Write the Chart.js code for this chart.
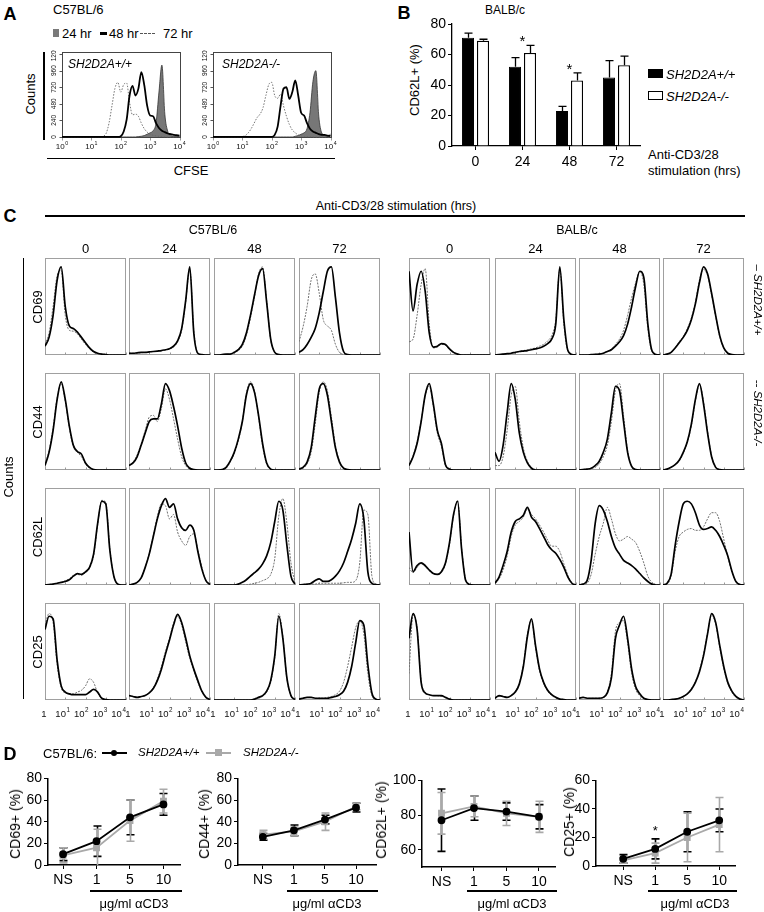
<!DOCTYPE html>
<html>
<head>
<meta charset="utf-8">
<script src="https://cdn.jsdelivr.net/npm/chart.js@4.4.1/dist/chart.umd.min.js"></script>
<style>
  html, body { margin: 0; padding: 0; background: #fff; }
  body { position: relative; width: 764px; height: 912px; overflow: hidden; font-family: "Liberation Sans", Arial, sans-serif; color: #000; }
  canvas { position: absolute; }
  .t { position: absolute; white-space: nowrap; line-height: 1; }
  .ln { position: absolute; background: #000; }
</style>
</head>
<body>
<script>
// ---------- data ----------
// x grid of the flow histograms, log10 of fluorescence (1 .. 10^4)
const LOG_X = [0,0.2,0.4,0.6,0.8,1,1.2,1.4,1.6,1.8,2,2.2,2.4,2.6,2.8,3,3.2,3.4,3.6,3.8,4];
const CFSE_X = [0,0.1,0.2,0.3,0.4,0.5,0.6,0.7,0.8,0.9,1,1.1,1.2,1.3,1.4,1.5,1.6,1.7,1.8,1.9,2,2.1,2.2,2.3,2.4,2.5,2.6,2.7,2.8,2.9,3,3.1,3.2,3.3,3.4,3.5,3.6,3.7,3.8,3.9,4];
const DECADES = [0,1,2,3,4];
const FLOW_TICKS = ['1','10^1','10^2','10^3','10^4'];
const CFSE_TICKS = ['10^0','10^1','10^2','10^3','10^4'];
const COUNT_TICKS = [0,240,480,720,960,1200];

// panel A, CFSE counts
const A_WT_24H = [0,0,0,0,0,0,0,0,0,0, 0,0,0,0,0,0,0,0,0,0, 0,0,0,0,0,0,5,10,20,40, 60,90,200,650,1040,330,80,20,10,5, 5];
const A_WT_48H = [0,0,0,0,0,0,0,0,0,0, 0,0,0,0,0,0,0,0,0,0, 10,80,250,600,740,600,700,940,750,450, 310,300,200,130,90,70,50,40,30,25, 20];
const A_WT_72H = [0,0,0,0,0,0,0,0,0,0, 0,0,0,0,10,50,200,450,700,790, 650,760,780,500,320,330,300,200,120,70, 40,25,15,10,5,3,0,0,0,0, 0];
const A_KO_24H = [0,0,0,0,0,0,0,0,0,0, 0,0,0,0,0,0,0,0,0,0, 0,0,0,0,0,0,0,0,10,20, 40,60,120,350,800,960,300,60,20,10, 40];
const A_KO_48H = [0,0,0,0,0,0,0,0,0,0, 0,0,0,0,0,0,0,0,0,0, 0,30,150,450,700,720,550,650,820,600, 350,310,200,120,80,60,40,30,30,20, 15];
const A_KO_72H = [0,0,0,0,0,0,0,0,0,0, 5,20,60,120,200,280,330,420,600,760, 790,600,560,620,450,300,180,100,60,30, 15,8,5,3,0,0,0,0,0,0, 0];

// panel B, CD62L+ (%) in BALB/c
const TIME_LABELS = ['0','24','48','72'];
const B_WT = [71,52,23,45];
const B_WT_ERR = [3,6,3,11];
const B_KO = [69,61,43,53];
const B_KO_ERR = [1,5,5,6];
const B_SIG = [false,true,true,false];

// panel C, histograms (relative counts), one row per time point 0/24/48/72 h
const CD69_B6_WT = [
  [10,20,45,85,100,55,33,30,26,20,14,8,4,2,1,0.5,0,0,0,0,0],
  [2,2,2.5,3,3,3.5,4,4.5,5,6,7,10,16,30,62,100,25,2,0.5,0,0],
  [0,0,0.5,1,1,3,6,12,25,45,68,90,98,60,18,3,0.5,0,0,0,0],
  [3,6,12,20,30,48,72,95,100,65,25,4,0.5,0,0,0,0,0,0,0,0]];
const CD69_B6_KO = [
  [12,25,55,90,96,45,28,27,24,18,12,7,3,1.5,1,0.5,0,0,0,0,0],
  [2,2,2,2.5,3,3,4,4,5,5.5,7,9,15,28,60,98,28,2,0.5,0,0],
  [0,0,0.5,0.8,1,3,5,10,22,42,66,92,100,62,17,3,0.5,0,0,0,0],
  [15,32,55,85,92,70,40,33,28,12,3,0.5,0,0,0,0,0,0,0,0,0]];
const CD69_BALB_WT = [
  [95,50,80,95,72,25,9,10,13,12,7,3,1,0,0,0,0,0,0,0,0],
  [0,0.5,1,1.5,2,3,4,4.5,5,6,7,8,10,13,18,35,100,40,5,0.5,0],
  [0,0,0,0.5,0.8,1,2,4,6,10,15,22,35,55,78,95,88,35,5,0.5,0],
  [0,1,3,8,14,20,28,40,58,82,100,92,70,45,22,8,2,0.5,0,0,0]];
const CD69_BALB_KO = [
  [15,18,45,80,98,35,8,9,12,11,6,3,1,0,0,0,0,0,0,0,0],
  [0,0.5,1,1.5,2,3,4,5,6,7,8,10,12,16,22,40,98,35,4,0.5,0],
  [0,0,0,0.5,0.8,1,2,4,7,12,18,28,45,65,82,95,80,30,4,0.5,0],
  [0,1,3,8,15,21,30,42,60,85,97,90,68,44,21,8,2,0.5,0,0,0]];

const CD44_B6_WT = [
  [5,20,45,80,100,80,50,28,21,18,8,3,0.5,0,0,0,0,0,0,0,0],
  [5,8,15,28,42,55,58,58,75,98,90,72,50,25,8,2,0.5,0,0,0,0],
  [0,0,0.5,3,10,20,35,55,85,98,88,62,30,8,1,0,0,0,0,0,0],
  [1,3,9,25,60,92,98,85,55,25,9,2,0.5,0,0,0,0,0,0,0,0]];
const CD44_B6_KO = [
  [6,22,48,82,98,78,48,26,20,15,7,2,0.5,0,0,0,0,0,0,0,0],
  [5,9,17,30,45,60,62,55,70,92,80,58,35,15,5,1,0,0,0,0,0],
  [0,0,0.5,2,9,19,33,55,87,100,90,60,27,7,1,0,0,0,0,0,0],
  [1,2,7,20,52,88,100,90,60,28,10,2,0.5,0,0,0,0,0,0,0,0]];
const CD44_BALB_WT = [
  [5,15,30,55,85,98,75,45,30,6,1,0,0,0,0,0,0,0,0,0,0],
  [20,10,28,65,98,80,42,20,8,2,0,0,0,0,0,0,0,0,0,0,0],
  [0,0.5,1,2,5,10,20,35,65,95,90,55,20,4,0.5,0,0,0,0,0,0],
  [0,1,3,6,11,20,32,52,80,98,75,42,15,3,0.5,0,0,0,0,0,0]];
const CD44_BALB_KO = [
  [6,16,32,56,84,95,72,42,27,5,1,0,0,0,0,0,0,0,0,0,0],
  [5,5,15,45,85,95,55,25,10,3,0.5,0,0,0,0,0,0,0,0,0,0],
  [0,0.5,1,1.5,3,7,15,28,55,90,98,62,22,4,0.5,0,0,0,0,0,0],
  [0,1,3,6,10,19,31,50,78,97,78,44,16,3,0.5,0,0,0,0,0,0]];

const CD62L_B6_WT = [
  [0,0.5,1,2,3,4,6,10,13,12,15,20,35,70,95,92,40,10,1,0,0],
  [0,1,3,8,20,35,55,75,90,98,88,92,75,65,62,68,62,38,18,5,0.5],
  [0,0,0,0,0,0,1,3,6,10,14,18,24,33,48,72,95,85,45,10,1],
  [0,0.5,1,2,5,7,4,4,6,10,16,25,38,52,70,92,75,15,2,0.5,0]];
const CD62L_B6_KO = [
  [0,0.5,1,2,3,5,7,11,12,11,14,19,33,68,96,94,42,10,1,0,0],
  [0,1,3,8,20,36,56,78,92,90,75,80,60,50,45,55,58,40,20,5,0.5],
  [0,0,0,0,0,0,0,0,0,1,2,3,5,7,12,30,78,98,70,25,3],
  [0,0,0.5,1,1,2,2,2,2,2,2,2.5,3,3,5,25,85,80,10,1,0]];
const CD62L_BALB_WT = [
  [60,15,22,25,22,17,13,12,15,25,48,80,95,40,5,0.5,0,0,0,0,0],
  [2,9,22,38,60,72,75,79,88,77,72,64,55,46,40,36,29,20,9,2,0],
  [0,1,5,28,70,90,85,72,55,42,35,28,25,22,18,13,8,4,1,0,0],
  [0,2,12,45,72,92,95,92,82,68,63,64,66,62,55,45,33,16,4,0.5,0]];
const CD62L_BALB_KO = [
  [20,14,20,24,21,16,13,12,14,24,46,78,96,42,6,0.5,0,0,0,0,0],
  [2,7,17,33,55,68,72,77,86,80,75,68,60,51,44,44,38,24,11,2,0],
  [0,0.5,2,12,35,55,70,88,75,58,50,52,55,52,48,38,25,10,3,0.5,0],
  [0,1,10,38,55,60,63,64,62,62,66,75,82,82,72,52,32,15,4,0.5,0]];

const CD25_B6_WT = [
  [80,95,92,45,16,9,7,6,6,6,6,9,12,9,2,0.5,0,0,0,0,0],
  [5,4,3,4,5,8,13,22,35,52,68,85,97,88,70,50,35,22,10,3,0.5],
  [0,0,0,0,0,0,0,0,0,0,1,3,5,10,22,50,95,70,25,5,0.5],
  [1,2,3,3,2,2,2,2,3,4,6,10,20,38,65,90,85,40,8,1,0]];
const CD25_B6_KO = [
  [85,98,88,40,14,8,7,7,9,11,16,24,20,8,1.5,0.5,0,0,0,0,0],
  [5,4,3,3.5,5,8,14,24,38,55,70,87,95,85,66,47,33,20,9,3,0.5],
  [0,0,0,0,0,0,0,0,0,0,1,2,4,9,20,48,98,72,24,5,0.5],
  [1,2,3,3,2,2,2,3,4,6,10,20,38,60,82,90,75,30,5,0.5,0]];
const CD25_BALB_WT = [
  [70,98,80,20,8,6,5,5,5,3,1,0,0,0,0,0,0,0,0,0,0],
  [2,5,4,3,5,9,18,38,72,92,62,35,20,11,6,3,1,0.5,0,0,0],
  [2,3,2,2,2,2,3,8,25,70,85,95,70,35,15,7,2,0.5,0,0,0],
  [0,0,0.5,1,2,4,7,12,20,32,50,75,98,88,62,38,20,10,4,1,0]];
const CD25_BALB_KO = [
  [30,96,82,22,9,6,5,5,4,3,1,0,0,0,0,0,0,0,0,0,0],
  [2,4,4,3,5,10,19,40,74,90,60,33,19,10,5,2.5,1,0.5,0,0,0],
  [2,3,2,2,2,2,3,10,30,78,88,90,65,30,12,5,1.5,0.5,0,0,0],
  [0,0,0.5,1,2,4,7,13,21,34,52,76,96,86,60,36,19,9,3,1,0]];

// panel D, % positive vs anti-CD3 dose (mean, error)
const DOSE_LABELS = ['NS','1','5','10'];
const D_CD69_WT = [10,22,44,56],  D_CD69_WT_ERR = [6,14,16,10];
const D_CD69_KO = [9,16,41,59],   D_CD69_KO_ERR = [7,17,19,11];
const D_CD44_WT = [26,32,42,53],  D_CD44_WT_ERR = [3,5,4,4];
const D_CD44_KO = [28,31,40,54],  D_CD44_KO_ERR = [4,4,8,3];
const D_CD62L_WT = [77,84,82,79], D_CD62L_WT_ERR = [18,7,5,7];
const D_CD62L_KO = [81,85,81,79], D_CD62L_KO_ERR = [12,6,7,9];
const D_CD25_WT = [5,12,24,32],   D_CD25_WT_ERR = [3,7,14,8];
const D_CD25_KO = [4,9,20,29],    D_CD25_KO_ERR = [2,7,17,19];
const D_CD25_SIG = [false,true,false,false];

// ---------- helpers ----------
Chart.defaults.font.family = '"Liberation Sans", Arial, sans-serif';
Chart.defaults.color = '#000';

function place(x, y, w, h) {
  const c = document.createElement('canvas');
  c.width = w; c.height = h;
  c.style.left = x + 'px'; c.style.top = y + 'px';
  c.style.width = w + 'px'; c.style.height = h + 'px';
  document.body.appendChild(c);
  return c.getContext('2d');
}

function txt(s, x, y, size, o = {}) {
  const d = document.createElement('div');
  d.className = 't';
  d.textContent = s;
  d.style.left = x + 'px';
  d.style.top = y + 'px';
  d.style.fontSize = size + 'px';
  if (o.bold) d.style.fontWeight = 'bold';
  if (o.italic) d.style.fontStyle = 'italic';
  const ax = o.left ? '0' : '-50%';
  d.style.transform = 'translate(' + ax + ',-50%)' + (o.rot ? ' rotate(' + o.rot + 'deg)' : '');
  document.body.appendChild(d);
  return d;
}

function line(x, y, w, h, css) {
  const d = document.createElement('div');
  d.className = 'ln';
  d.style.cssText = 'left:' + x + 'px;top:' + y + 'px;width:' + w + 'px;height:' + h + 'px;' + (css || '');
  document.body.appendChild(d);
  return d;
}

// "10^3" -> 10 with a raised 3
function supText(ctx, s, cx, cy, size) {
  const [base, exp] = s.split('^');
  ctx.font = size + 'px "Liberation Sans", Arial';
  const wb = ctx.measureText(base).width;
  ctx.font = (size * 0.66) + 'px "Liberation Sans", Arial';
  const we = exp ? ctx.measureText(exp).width + 0.5 : 0;
  const x0 = cx - (wb + we) / 2;
  ctx.textAlign = 'left';
  ctx.textBaseline = 'middle';
  ctx.font = size + 'px "Liberation Sans", Arial';
  ctx.fillText(base, x0, cy);
  if (exp) {
    ctx.font = (size * 0.66) + 'px "Liberation Sans", Arial';
    ctx.fillText(exp, x0 + wb + 0.5, cy - size * 0.38);
  }
}

// box, decade ticks and labels of the flow plots
const flowFrame = {
  id: 'flowFrame',
  beforeDatasetsDraw(chart, args, o) {
    const { ctx, chartArea: a, scales: { x, y } } = chart;
    ctx.save();
    ctx.strokeStyle = o.frameColor || '#a0a0a0';
    ctx.lineWidth = 1;
    ctx.strokeRect(Math.round(a.left) + 0.5, Math.round(a.top) + 0.5, Math.round(a.width) - 1, Math.round(a.height) - 1);
    ctx.strokeStyle = '#999';
    DECADES.forEach(v => {
      const px = Math.round(x.getPixelForValue(v)) + 0.5;
      ctx.beginPath(); ctx.moveTo(px, a.bottom); ctx.lineTo(px, a.bottom + (o.outTicks ? 2.5 : -2.5)); ctx.stroke();
    });
    ctx.fillStyle = '#111';
    if (o.xLabels) {
      o.xLabels.forEach((s, i) => supText(ctx, s, x.getPixelForValue(DECADES[i]) + (o.shift || 0) * i + (o.dx || 0), a.bottom + o.labelDy, o.fontSize));
    }
    if (o.yTicks) {
      o.yTicks.forEach(v => {
        const py = y.getPixelForValue(v);
        ctx.strokeStyle = '#555';
        ctx.beginPath(); ctx.moveTo(a.left, Math.round(py) + 0.5); ctx.lineTo(a.left - 2.5, Math.round(py) + 0.5); ctx.stroke();
        ctx.save();
        ctx.translate(a.left - 7.5, py);
        ctx.rotate(-Math.PI / 2);
        ctx.font = '6.5px "Liberation Sans", Arial';
        ctx.textAlign = 'center';
        ctx.textBaseline = 'middle';
        ctx.fillText(String(v), 0, 0);
        ctx.restore();
      });
    }
    ctx.restore();
  }
};

// error bars from dataset.err, drawn with the chart's y scale
function drawErr(chart, o) {
  const ctx = chart.ctx, a = chart.chartArea;
  ctx.save();
  if (o.clip) { ctx.beginPath(); ctx.rect(a.left - 10, a.top - 10, a.width + 20, a.height + 10); ctx.clip(); }
  chart.data.datasets.forEach((ds, di) => {
    if (!ds.err) return;
    const meta = chart.getDatasetMeta(di);
    const ys = chart.scales[meta.yAxisID];
    ctx.strokeStyle = ds.errColor || ds.borderColor;
    ctx.lineWidth = o.lineWidth || 1.3;
    meta.data.forEach((el, i) => {
      const raw = ds.data[i];
      const m = typeof raw === 'number' ? raw : raw.y;
      const e = ds.err[i];
      const x = Math.round(el.x) + 0.5;
      const yt = ys.getPixelForValue(m + e);
      const yb = o.upOnly ? el.y : ys.getPixelForValue(m - e);
      const hw = (o.capW || 8) / 2;
      ctx.beginPath();
      ctx.moveTo(x, yb); ctx.lineTo(x, yt);
      ctx.moveTo(x - hw, yt); ctx.lineTo(x + hw, yt);
      if (!o.upOnly) { ctx.moveTo(x - hw, yb); ctx.lineTo(x + hw, yb); }
      ctx.stroke();
    });
  });
  ctx.restore();
}
const errBars = {
  id: 'errBars',
  beforeDatasetsDraw(chart, args, o) { if (o.under) drawErr(chart, o); },
  afterDatasetsDraw(chart, args, o) { if (!o.under) drawErr(chart, o); }
};

// significance asterisks above the highest error bar of a group
const stars = {
  id: 'stars',
  afterDatasetsDraw(chart, args, o) {
    if (!o.sig) return;
    const ctx = chart.ctx, ys = chart.scales.y, xs = chart.scales.x;
    ctx.save();
    ctx.fillStyle = '#000';
    ctx.font = o.size + 'px "Liberation Sans", Arial';
    ctx.textAlign = 'center';
    ctx.textBaseline = 'alphabetic';
    o.sig.forEach((s, i) => {
      if (!s) return;
      let top = -Infinity;
      chart.data.datasets.forEach(ds => {
        const raw = ds.data[i];
        const m = typeof raw === 'number' ? raw : raw.y;
        top = Math.max(top, m + (ds.err ? ds.err[i] : 0));
      });
      ctx.fillText('*', xs.getPixelForValue(i), ys.getPixelForValue(top) + o.dy);
    });
    ctx.restore();
  }
};

const baseOpts = {
  responsive: false,
  animation: false,
  events: [],
};

// ---------- panel A ----------
function cfsePlot(left, d24, d48, d72) {
  const ctx = place(left - 18, 50, 142, 104);
  const pts = arr => arr.map((v, i) => ({ x: CFSE_X[i], y: v }));
  new Chart(ctx, {
    type: 'line',
    data: {
      datasets: [
        { data: pts(d48), borderColor: '#000', borderWidth: 1.8, pointRadius: 0 },
        { data: pts(d72), borderColor: '#666', borderWidth: 0.9, borderDash: [1.5, 1.5], pointRadius: 0 },
        { data: pts(d24), borderColor: '#333', borderWidth: 0.8, backgroundColor: '#777', fill: 'origin', pointRadius: 0 }
      ]
    },
    options: {
      ...baseOpts,
      layout: { padding: { left: 18, top: 2, right: 5, bottom: 16 } },
      elements: { line: { tension: 0.25, cubicInterpolationMode: 'monotone' } },
      plugins: {
        legend: { display: false }, tooltip: { enabled: false },
        flowFrame: { frameColor: '#444', outTicks: true, xLabels: CFSE_TICKS, labelDy: 9, fontSize: 8, yTicks: COUNT_TICKS }
      },
      scales: {
        x: { type: 'linear', min: 0, max: 4.05, display: false },
        y: { min: -15, max: 1230, display: false }
      }
    },
    plugins: [flowFrame]
  });
}

txt('A', 10, 14, 18, { bold: true });
txt('C57BL/6', 53, 9, 13, { left: true });
line(53, 29, 6, 8, 'background:#7a7a7a');
txt('24 hr', 62, 33, 13, { left: true });
line(100, 31.5, 7, 3);
txt('48 hr', 109, 33, 13, { left: true });
line(140, 33, 15, 0, 'background:none;border-top:1px dashed #555');
txt('72 hr', 163, 33, 13, { left: true });
txt('Counts', 30, 94, 13, { rot: -90 });
line(43, 52, 1.5, 88);
line(47, 157.5, 288, 1.5);
txt('CFSE', 191, 170, 13);
cfsePlot(62, A_WT_24H, A_WT_48H, A_WT_72H);
cfsePlot(213, A_KO_24H, A_KO_48H, A_KO_72H);
txt('SH2D2A+/+', 68, 64, 12, { left: true, italic: true });
txt('SH2D2A-/-', 222, 64, 12, { left: true, italic: true });

// ---------- panel B ----------
txt('B', 404, 13, 18, { bold: true });
txt('BALB/c', 485, 10, 12, { left: true });
txt('CD62L+ (%)', 414, 80, 13, { rot: -90 });
line(648, 69, 15, 9);
txt('SH2D2A+/+', 666, 73.5, 13, { left: true, italic: true });
line(648, 91, 15, 9, 'background:#fff;border:1.3px solid #000;box-sizing:border-box');
txt('SH2D2A-/-', 666, 95.5, 13, { left: true, italic: true });
txt('Anti-CD3/28', 648, 154, 13, { left: true });
txt('stimulation (hrs)', 648, 170, 13, { left: true });

new Chart(place(400, 10, 245, 165), {
  type: 'bar',
  data: {
    labels: TIME_LABELS,
    datasets: [
      { data: B_WT, err: B_WT_ERR, backgroundColor: '#000', borderColor: '#000', borderWidth: 1, categoryPercentage: 0.64, barPercentage: 0.8 },
      { data: B_KO, err: B_KO_ERR, backgroundColor: '#fff', borderColor: '#000', borderWidth: 1.3, categoryPercentage: 0.64, barPercentage: 0.8 }
    ]
  },
  options: {
    ...baseOpts,
    layout: { padding: { top: 14, right: 5, left: 0, bottom: 0 } },
    plugins: {
      legend: { display: false }, tooltip: { enabled: false },
      errBars: { upOnly: true, capW: 8, lineWidth: 1.3 },
      stars: { sig: B_SIG, dy: 1, size: 15 }
    },
    scales: {
      x: {
        grid: { drawOnChartArea: false, offset: false, tickLength: 4, color: '#000' },
        border: { color: '#000', width: 1.3 },
        ticks: { font: { size: 14 }, padding: 4 },
        afterFit(s) { s.height = 29; }
      },
      y: {
        min: 0, max: 80,
        ticks: { stepSize: 20, font: { size: 14 }, padding: 2 },
        grid: { drawOnChartArea: false, tickLength: 4, color: '#000' },
        border: { color: '#000', width: 1.3 },
        afterFit(s) { s.width = 52; }
      }
    }
  },
  plugins: [errBars, stars]
});

// ---------- panel C ----------
const MARKERS = ['CD69', 'CD44', 'CD62L', 'CD25'];
const HIST = {
  B6: [[CD69_B6_WT, CD69_B6_KO], [CD44_B6_WT, CD44_B6_KO], [CD62L_B6_WT, CD62L_B6_KO], [CD25_B6_WT, CD25_B6_KO]],
  BALB: [[CD69_BALB_WT, CD69_BALB_KO], [CD44_BALB_WT, CD44_BALB_KO], [CD62L_BALB_WT, CD62L_BALB_KO], [CD25_BALB_WT, CD25_BALB_KO]]
};
const COL_LEFT = { B6: [45, 129, 214, 299], BALB: [409, 495, 579, 663] };
const ROW_TOP = [258, 373, 488, 603];
const BOX_W = 81, BOX_H = 97;

function histPlot(left, top, wt, ko, bottomRow) {
  const padX = bottomRow ? 9 : 2;
  const padB = bottomRow ? 22 : 2;
  const ctx = place(left - padX, top - 2, BOX_W + 2 * padX, BOX_H + 2 + padB);
  const pts = arr => arr.map((v, i) => ({ x: LOG_X[i], y: v }));
  new Chart(ctx, {
    type: 'line',
    data: {
      datasets: [
        { data: pts(wt), borderColor: '#000', borderWidth: 1.7, pointRadius: 0 },
        { data: pts(ko), borderColor: '#707070', borderWidth: 1, borderDash: [2, 1.2], pointRadius: 0 }
      ]
    },
    options: {
      ...baseOpts,
      layout: { padding: { left: padX, right: padX, top: 2, bottom: padB } },
      elements: { line: { tension: 0.3, cubicInterpolationMode: 'monotone' } },
      plugins: {
        legend: { display: false }, tooltip: { enabled: false },
        flowFrame: bottomRow ? { xLabels: FLOW_TICKS, labelDy: 14, fontSize: 9.5, shift: -1.6, dx: -1 } : {}
      },
      scales: {
        x: { type: 'linear', min: 0, max: 4, display: false },
        y: { min: 0, max: 110, display: false }
      }
    },
    plugins: [flowFrame]
  });
}

['B6', 'BALB'].forEach(strain => {
  HIST[strain].forEach((pair, r) => {
    TIME_LABELS.forEach((t, c) => {
      histPlot(COL_LEFT[strain][c], ROW_TOP[r], pair[0][c], pair[1][c], r === 3);
    });
  });
  TIME_LABELS.forEach((t, c) => txt(t, COL_LEFT[strain][c] + BOX_W / 2, 248, 13));
});

txt('C', 10, 216, 18, { bold: true });
txt('Anti-CD3/28 stimulation (hrs)', 396, 206, 12.5);
line(45, 215, 700, 1.6);
txt('C57BL/6', 213, 230, 12.5);
txt('BALB/c', 577, 230, 12.5);
MARKERS.forEach((m, r) => txt(m, 37, ROW_TOP[r] + BOX_H / 2, 13, { rot: -90 }));
txt('Counts', 8, 477, 13, { rot: -90 });
line(22.5, 258, 1.5, 441);
txt('\u2013 SH2D2A+/+', 757, 300, 11.5, { rot: 90, italic: true });
txt('-- SH2D2A-/-', 757, 413, 11.5, { rot: 90, italic: true });

// ---------- panel D ----------
txt('D', 10, 754, 18, { bold: true });
txt('C57BL/6:', 43, 753, 13, { left: true });
line(102, 752, 25, 2);
line(111, 749.5, 6, 6, 'border-radius:50%');
txt('SH2D2A+/+', 138, 753, 11.5, { left: true, italic: true });
line(206, 752, 25, 2, 'background:#a9a9a9');
line(215, 749, 7, 7, 'background:#a9a9a9');
txt('SH2D2A-/-', 243, 753, 11.5, { left: true, italic: true });

function doseChart(s) {
  const cl = s.axisX - 34, ct = s.top - 9;
  const ctx = place(cl, ct, s.right - cl + 4, s.bottom - ct + 26);
  new Chart(ctx, {
    type: 'line',
    data: {
      datasets: [
        { data: s.wt.map((v, i) => ({ x: i, y: v })), err: s.wtErr, borderColor: '#000', backgroundColor: '#000', borderWidth: 1.8, pointRadius: 3, pointStyle: 'circle' },
        { data: s.ko.map((v, i) => ({ x: i, y: v })), err: s.koErr, borderColor: '#a9a9a9', backgroundColor: '#a9a9a9', borderWidth: 1.8, pointRadius: 3.6, pointStyle: 'rect' }
      ]
    },
    options: {
      ...baseOpts,
      layout: { padding: { top: 9, right: 4, left: 0, bottom: 0 } },
      plugins: {
        legend: { display: false }, tooltip: { enabled: false },
        errBars: { under: true, capW: 8, lineWidth: 1.6, clip: true },
        stars: { sig: s.sig, dy: -4, size: 13 }
      },
      scales: {
        x: {
          type: 'linear', min: s.xMin, max: s.xMax,
          afterBuildTicks(sc) { sc.ticks = DOSE_LABELS.map((_, i) => ({ value: i })); },
          ticks: { callback: v => DOSE_LABELS[v], font: { size: 14 }, padding: 3, autoSkip: false, maxRotation: 0 },
          grid: { drawOnChartArea: false, tickLength: 4, color: '#000' },
          border: { color: '#000', width: 1.5 },
          afterFit(sc) { sc.height = 26; }
        },
        y: {
          min: s.min, max: s.max,
          afterBuildTicks(sc) { sc.ticks = s.ticks.map(v => ({ value: v })); },
          ticks: { font: { size: 14 }, padding: 2 },
          grid: { drawOnChartArea: false, tickLength: 4, color: '#000' },
          border: { color: '#000', width: 1.5 },
          afterFit(sc) { sc.width = 34; }
        }
      }
    },
    plugins: [errBars, stars]
  });
  line(s.ulFrom, 890, s.right - s.ulFrom, 1.8);
  txt('\u03bcg/ml \u03b1CD3', s.unitX, 903, 13);
  txt(s.title, s.titleX, s.titleY, 14, { rot: -90 });
}

doseChart({ axisX: 48, right: 182, top: 777, bottom: 865, min: 0, max: 80, ticks: [0, 20, 40, 60, 80], xMin: -0.45, xMax: 3.5,
  wt: D_CD69_WT, wtErr: D_CD69_WT_ERR, ko: D_CD69_KO, koErr: D_CD69_KO_ERR, ulFrom: 90, unitX: 134, title: 'CD69+ (%)', titleX: 15, titleY: 824 });
doseChart({ axisX: 238, right: 378, top: 777, bottom: 865, min: 0, max: 80, ticks: [0, 20, 40, 60, 80], xMin: -0.8, xMax: 3.65,
  wt: D_CD44_WT, wtErr: D_CD44_WT_ERR, ko: D_CD44_KO, koErr: D_CD44_KO_ERR, ulFrom: 287, unitX: 327, title: 'CD44+ (%)', titleX: 204, titleY: 824 });
doseChart({ axisX: 422, right: 557, top: 779, bottom: 867, min: 50, max: 100, ticks: [60, 80, 100], xMin: -0.6, xMax: 3.5,
  wt: D_CD62L_WT, wtErr: D_CD62L_WT_ERR, ko: D_CD62L_KO, koErr: D_CD62L_KO_ERR, ulFrom: 467, unitX: 512, title: 'CD62L+ (%)', titleX: 381, titleY: 820 });
doseChart({ axisX: 596, right: 737, top: 779, bottom: 866, min: 0, max: 60, ticks: [0, 20, 40, 60], xMin: -0.85, xMax: 3.5,
  wt: D_CD25_WT, wtErr: D_CD25_WT_ERR, ko: D_CD25_KO, koErr: D_CD25_KO_ERR, sig: D_CD25_SIG, ulFrom: 648, unitX: 695, title: 'CD25+ (%)', titleX: 569, titleY: 822 });
</script>
</body>
</html>
